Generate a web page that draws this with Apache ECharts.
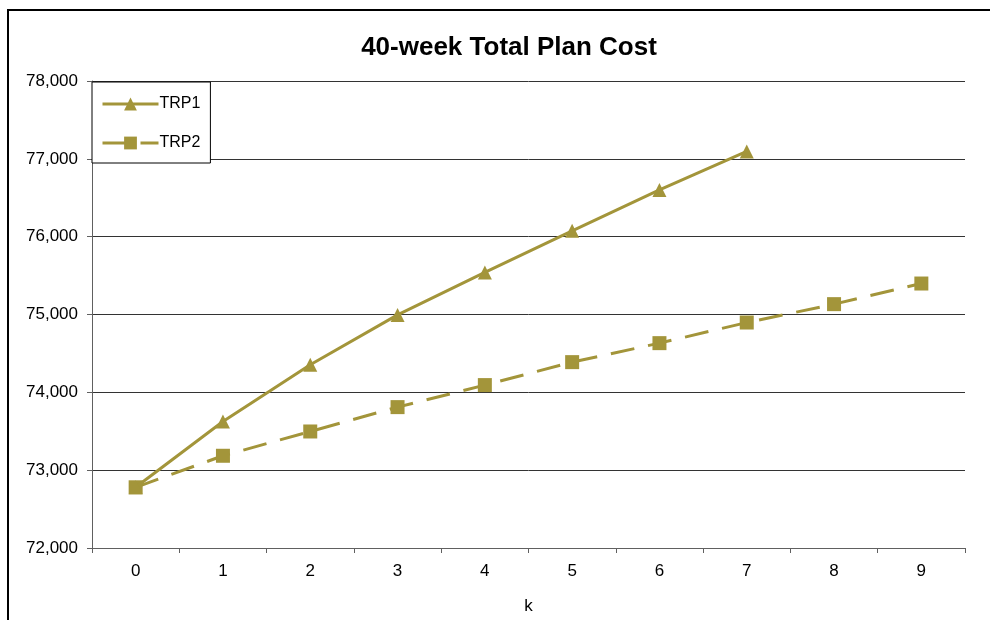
<!DOCTYPE html>
<html>
<head>
<meta charset="utf-8">
<script src="https://cdn.jsdelivr.net/npm/echarts@6/dist/echarts.min.js"></script>
<style>
html,body{margin:0;padding:0;background:#fff;}
#chart{width:990px;height:620px;}
</style>
</head>
<body>
<div id="chart"></div>
<script>
const categories = ['0','1','2','3','4','5','6','7','8','9'];
const trp1 = [72780, 73625, 74355, 74995, 75540, 76075, 76600, 77095];
const trp2 = [72780, 73185, 73497, 73810, 74093, 74388, 74632, 74897, 75133, 75398];
const yTicks = [72000, 73000, 74000, 75000, 76000, 77000, 78000];

const olive = '#a3953a';
const font = 'Liberation Sans, Arial, sans-serif';

const chart = echarts.init(document.getElementById('chart'), null, {renderer: 'canvas'});
chart.setOption({
  animation: false,
  backgroundColor: '#fff',
  title: {
    text: '40-week Total Plan Cost',
    left: 504, top: 30, textAlign: 'center',
    textStyle: {fontFamily: font, fontSize: 26, fontWeight: 'bold', color: '#000'}
  },
  graphic: [{
    type: 'rect', silent: true, z: -1,
    shape: {x: 8, y: 10, width: 1000, height: 700},
    style: {fill: null, stroke: '#000', lineWidth: 2}
  }],
  legend: {
    orient: 'vertical', left: 92, top: 82,
    padding: [14, 10, 12, 9], itemGap: 23,
    itemWidth: 56, itemHeight: 16,
    backgroundColor: '#fff', borderColor: '#000', borderWidth: 1,
    lineStyle: {width: 3},
    textStyle: {fontFamily: font, fontSize: 16, color: '#000', padding: [0,0,0,-4]},
    data: ['TRP1', 'TRP2']
  },
  grid: {left: 92, right: 25, top: 81, bottom: 72, containLabel: false},
  xAxis: {
    type: 'category', data: categories, boundaryGap: true,
    name: 'k', nameLocation: 'middle', nameGap: 50,
    nameTextStyle: {fontFamily: font, fontSize: 17, color: '#000'},
    axisLine: {lineStyle: {color: '#606060', width: 1}},
    axisTick: {show: true, length: 5, alignWithLabel: false, lineStyle: {color: '#606060'}},
    axisLabel: {fontFamily: font, fontSize: 17, color: '#000', margin: 15},
    splitLine: {show: false}
  },
  yAxis: {
    type: 'value', min: yTicks[0], max: yTicks[yTicks.length - 1], interval: 1000,
    axisLine: {show: true, lineStyle: {color: '#606060', width: 1}},
    axisTick: {show: true, length: 5, lineStyle: {color: '#606060'}},
    axisLabel: {
      fontFamily: font, fontSize: 17, color: '#000', margin: 14,
      formatter: v => v.toLocaleString('en-US')
    },
    splitLine: {show: true, lineStyle: {color: '#333', width: 1}}
  },
  series: [
    {
      name: 'TRP1', type: 'line', data: trp1,
      symbol: 'triangle', symbolSize: 14,
      lineStyle: {color: olive, width: 3},
      itemStyle: {color: olive},
      z: 3
    },
    {
      name: 'TRP2', type: 'line', data: trp2,
      symbol: 'rect', symbolSize: 14,
      lineStyle: {color: olive, width: 3, type: [24, 14]},
      itemStyle: {color: olive},
      z: 2
    }
  ]
});
</script>
</body>
</html>
